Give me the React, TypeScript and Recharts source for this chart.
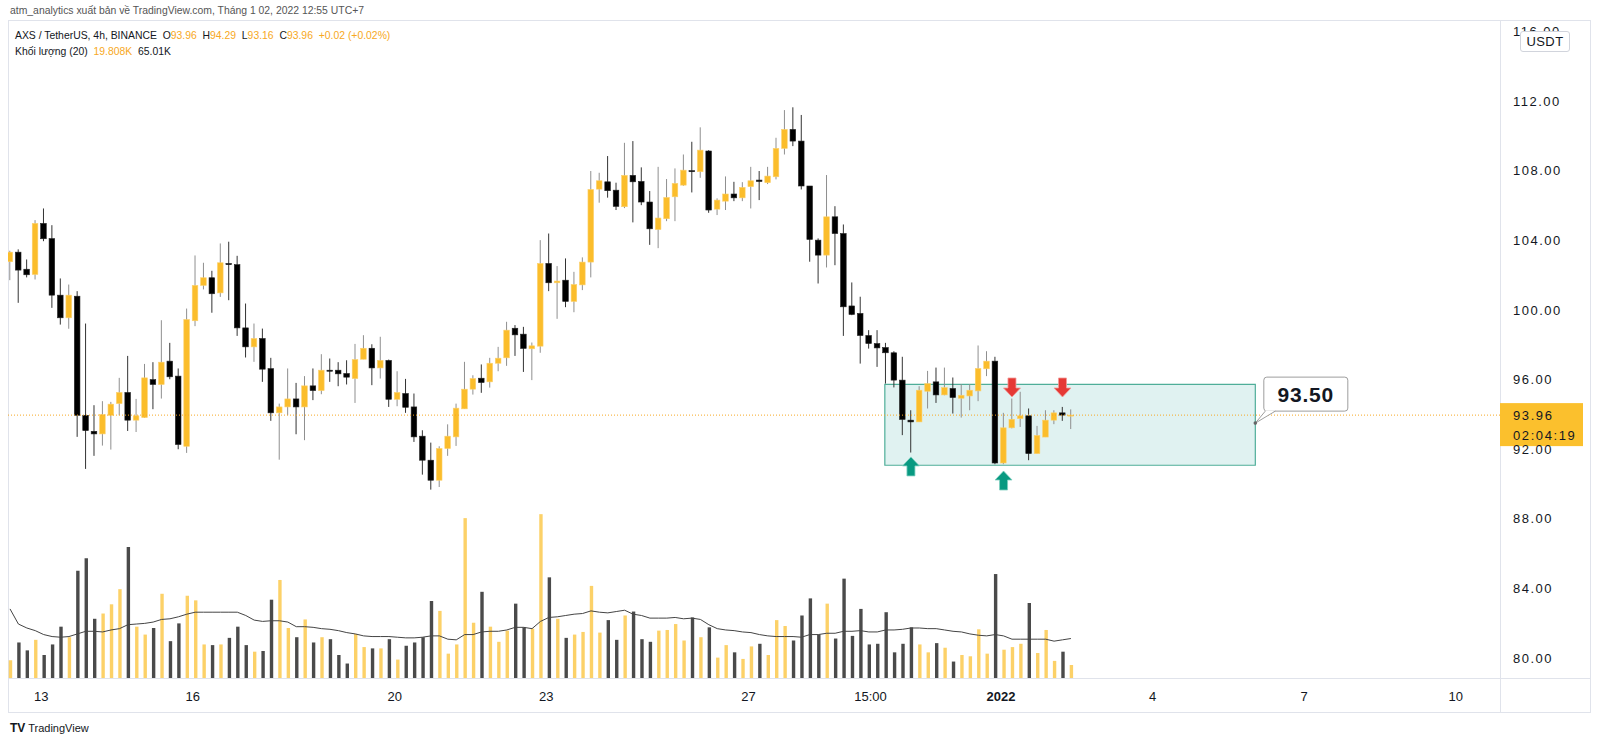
import React from "react";
import {
  ComposedChart,
  Bar,
  Line,
  XAxis,
  YAxis,
  ReferenceLine,
  ReferenceArea,
  ReferenceDot,
  Cell,
} from "recharts";

// AXS / USDT 4h candles (index 0 = first visible candle)
const opens = [
  102.77, 103.32, 102.34, 102.04, 104.97, 104.1, 100.85, 99.55, 100.79, 93.95,
  93.03, 92.88, 93.95, 94.62, 95.26, 93.67, 93.82, 96.0, 95.72, 97.06,
  96.2, 92.17, 99.38, 101.41, 101.85, 100.98, 102.67, 102.6, 98.97, 97.88,
  98.36, 96.63, 94.09, 94.43, 94.89, 94.43, 95.64, 95.37, 96.54, 96.54,
  96.35, 96.06, 97.17, 97.8, 96.67, 97.1, 94.87, 95.2, 94.43, 92.75,
  91.37, 90.22, 92.04, 92.71, 94.32, 95.45, 96.08, 95.87, 96.94, 97.25,
  98.95, 98.61, 97.77, 97.92, 102.67, 101.56, 101.71, 100.49, 101.44, 102.75,
  106.94, 107.36, 106.88, 105.93, 107.73, 107.38, 106.2, 104.62, 105.24, 106.5,
  107.17, 108.0, 107.94, 109.13, 105.79, 106.25, 106.66, 106.44, 107.08, 107.46,
  107.31, 107.65, 109.28, 110.37, 109.7, 107.12, 104.01, 103.15, 105.35, 104.39,
  100.23, 99.8, 98.53, 98.07, 97.84, 97.54, 95.97, 93.67, 93.57, 95.33,
  95.87, 95.12, 95.49, 94.93, 95.06, 95.35, 96.62, 97.06, 91.21, 93.23,
  93.76, 93.92, 91.75, 92.7, 93.67, 94.09, 93.96,
];
const highs = [
  103.4, 103.48, 102.9, 105.16, 105.83, 104.87, 101.81, 101.46, 101.08, 99.22,
  94.53, 94.76, 94.72, 96.1, 97.36, 94.89, 96.9, 97.0, 99.41, 98.11,
  96.64, 100.08, 103.13, 102.71, 102.25, 103.82, 103.92, 103.11, 100.37, 99.22,
  98.93, 97.25, 94.62, 96.64, 95.81, 96.2, 96.64, 97.46, 97.21, 97.0,
  97.11, 98.05, 98.55, 98.03, 98.46, 97.15, 96.48, 96.04, 95.2, 93.09,
  92.38, 92.17, 93.43, 94.62, 97.02, 96.25, 96.87, 97.25, 97.88, 99.32,
  99.13, 99.03, 98.13, 104.01, 104.39, 102.52, 102.96, 102.19, 103.02, 107.98,
  107.88, 108.84, 107.31, 109.6, 109.7, 108.19, 106.83, 108.22, 107.52, 108.13,
  108.93, 109.66, 110.49, 109.18, 106.41, 107.67, 107.36, 107.34, 108.22, 107.98,
  108.22, 109.89, 111.48, 111.64, 111.2, 107.12, 104.11, 107.75, 105.96, 104.91,
  101.58, 100.76, 98.84, 98.84, 98.11, 97.63, 97.31, 94.24, 95.62, 96.5,
  96.69, 96.69, 96.12, 95.74, 95.74, 97.96, 97.63, 97.31, 94.09, 94.91,
  95.3, 94.34, 93.34, 94.24, 94.24, 94.43, 94.29,
];
const lows = [
  101.71, 100.41, 101.87, 101.75, 103.95, 100.12, 99.16, 98.92, 92.71, 90.87,
  91.62, 92.21, 91.98, 93.95, 93.05, 92.99, 93.8, 94.3, 94.91, 96.02,
  92.0, 91.79, 99.07, 101.18, 99.84, 100.75, 100.56, 98.51, 97.27, 97.02,
  95.87, 93.63, 91.4, 93.95, 92.86, 92.52, 94.82, 95.16, 95.87, 95.62,
  95.72, 94.66, 97.17, 95.68, 96.06, 94.43, 94.47, 94.09, 92.42, 90.54,
  89.68, 89.83, 91.62, 92.19, 94.32, 95.14, 95.24, 95.54, 96.48, 96.79,
  97.36, 96.44, 95.97, 97.54, 101.08, 99.49, 100.16, 99.87, 101.14, 101.87,
  106.16, 106.45, 105.74, 105.85, 105.03, 106.02, 103.74, 103.55, 105.1, 105.1,
  107.13, 106.75, 107.59, 105.58, 105.45, 105.74, 106.25, 106.25, 105.83, 106.31,
  107.23, 107.5, 108.93, 109.41, 106.92, 102.77, 101.52, 102.44, 102.57, 98.51,
  99.7, 96.92, 97.78, 96.73, 95.77, 95.55, 92.81, 91.81, 93.57, 94.34,
  94.66, 95.1, 94.05, 93.82, 94.24, 94.76, 96.2, 91.14, 91.14, 93.2,
  93.28, 91.37, 91.75, 92.7, 93.44, 93.63, 93.16,
];
const closes = [
  103.32, 102.29, 102.02, 104.97, 104.09, 100.85, 99.55, 100.85, 93.95, 93.07,
  92.88, 93.99, 94.59, 95.26, 93.67, 93.92, 96.1, 95.72, 97.0, 96.16,
  92.27, 99.45, 101.41, 101.85, 100.93, 102.71, 102.6, 98.97, 97.88, 98.36,
  96.6, 94.09, 94.43, 94.89, 94.43, 95.64, 95.37, 96.54, 96.48, 96.33,
  96.14, 97.15, 97.8, 96.67, 97.1, 94.87, 95.26, 94.41, 92.71, 91.37,
  90.22, 92.04, 92.75, 94.36, 95.45, 96.06, 95.83, 96.94, 97.23, 98.84,
  98.57, 97.79, 97.94, 102.67, 101.56, 101.66, 100.49, 101.46, 102.75, 106.92,
  107.42, 106.85, 105.95, 107.73, 107.36, 106.2, 104.66, 105.28, 106.46, 107.27,
  108.03, 107.94, 109.18, 105.74, 106.31, 106.66, 106.44, 107.04, 107.42, 107.38,
  107.69, 109.28, 110.37, 109.7, 107.12, 104.05, 103.15, 105.35, 104.39, 100.18,
  99.74, 98.53, 98.07, 97.82, 97.54, 95.97, 93.71, 93.57, 95.39, 95.77,
  95.12, 95.54, 94.97, 95.1, 95.39, 96.64, 97.06, 91.21, 93.23, 93.72,
  93.92, 91.75, 92.79, 93.67, 94.09, 93.96, 93.96,
];
// volume in thousands
const volumes = [
  27, 54, 42, 58, 35, 51, 78, 62, 163, 182,
  90, 98, 112, 135, 199, 78, 66, 76, 128, 56,
  83, 125, 118, 51, 50, 51, 61, 78, 50, 40,
  41, 119, 149, 76, 62, 89, 54, 62, 59, 35,
  22, 67, 47, 45, 45, 59, 28, 49, 54, 62,
  117, 102, 37, 51, 243, 84, 131, 78, 55, 72,
  113, 77, 75, 249, 153, 90, 61, 66, 70, 140,
  69, 88, 58, 95, 101, 59, 55, 72, 73, 82,
  57, 92, 62, 77, 31, 50, 39, 29, 48, 52,
  35, 88, 79, 57, 95, 121, 66, 113, 60, 151,
  64, 105, 51, 52, 100, 39, 52, 77, 51, 39,
  53, 46, 25, 35, 33, 74, 37, 158, 43, 47,
  52, 114, 38, 73, 26, 40, 19.8,
];
// "Khối lượng (20)" moving average line
const volumeMA = [
  105, 82, 76, 72, 66, 63, 62, 63, 67, 71,
  71, 70, 73, 75, 81, 82, 83, 85, 89, 90,
  93, 97, 100, 100, 100, 100, 100, 100, 95, 88,
  86, 87, 87, 85, 78, 78, 77, 75, 74, 72,
  69, 67, 64, 63, 63, 63, 62, 61, 61, 62,
  64, 64, 59, 58, 66, 66, 70, 71, 71, 73,
  77, 77, 75, 86, 92, 93, 95, 97, 98, 102,
  100, 99, 101, 103, 97, 95, 91, 91, 91, 92,
  90, 91, 89, 81, 75, 73, 72, 70, 69, 66,
  64, 63, 63, 63, 62, 66, 66, 68, 68, 71,
  71, 72, 70, 70, 73, 73, 74, 76, 76, 75,
  75, 73, 71, 70, 67, 65, 64, 66, 64, 59,
  59, 59, 59, 59, 56, 58, 60,
];

const priceTicks = [80, 84, 88, 92, 96, 100, 104, 108, 112, 116];
const timeTickPos = [3.7, 21.7, 45.7, 63.7, 87.7, 102.2, 117.7, 135.7, 153.7, 171.7];
const timeTickLabels = ["13", "16", "20", "23", "27", "15:00", "2022", "4", "7", "10"];

const lastPrice = 93.96;
const zone = { from: 103.9, to: 147.9, low: 91.08, high: 95.72 };
const callout = { at: 147.9, price: 93.5, text: "93.50" };
const buyArrows = [
  { at: 107, price: 91.56 },
  { at: 118, price: 90.75 },
];
const sellArrows = [
  { at: 119, price: 95.0 },
  { at: 125, price: 95.0 },
];

const UP = "#fbbd2b";
const DOWN = "#000000";
const FONT = "'Liberation Sans', Arial, sans-serif";
const BORDER = "#e0e3eb";

const data = opens.map((o, i) => ({
  i,
  open: o,
  high: highs[i],
  low: lows[i],
  close: closes[i],
  range: [lows[i], highs[i]],
  vol: volumes[i],
  ma: volumeMA[i],
}));

function Candle(props: any) {
  const { x, y, width, height, payload } = props;
  if (!payload) return null;
  const top = Math.min(y, y + height);
  const h = Math.abs(height);
  const cx = x + width / 2;
  const k = h / (payload.high - payload.low || 1);
  const yO = top + (payload.high - payload.open) * k;
  const yC = top + (payload.high - payload.close) * k;
  const up = payload.close >= payload.open;
  const bTop = Math.min(yO, yC);
  const bH = Math.max(1, Math.abs(yO - yC));
  return (
    <g>
      <line x1={cx} x2={cx} y1={top} y2={top + h} stroke={up ? "#8f8f8f" : "#333"} strokeWidth={1} />
      <rect
        x={cx - 2.8}
        y={bTop}
        width={5.6}
        height={bH}
        fill={up ? UP : DOWN}
        stroke={up ? "#fcd06a" : "#222"}
        strokeWidth={0.6}
      />
    </g>
  );
}

function TimeTick(props: any) {
  const { x, y, payload } = props;
  const idx = timeTickPos.indexOf(payload.value);
  const label = idx >= 0 ? timeTickLabels[idx] : "";
  return (
    <text
      x={x}
      y={y + 15}
      textAnchor="middle"
      fontSize={13}
      fontFamily={FONT}
      fontWeight={label === "2022" ? 700 : 400}
      fill="#131722"
    >
      {label}
    </text>
  );
}

function UpArrow(props: any) {
  const { cx, cy } = props;
  const p = [
    [cx, cy],
    [cx + 8.5, cy + 9],
    [cx + 4, cy + 9],
    [cx + 4, cy + 19],
    [cx - 4, cy + 19],
    [cx - 4, cy + 9],
    [cx - 8.5, cy + 9],
  ];
  return <polygon points={p.map((q) => q.join(",")).join(" ")} fill="#089981" stroke="#7fcfc0" strokeWidth={0.8} />;
}

function DownArrow(props: any) {
  const { cx, cy } = props;
  const p = [
    [cx, cy],
    [cx + 8.5, cy - 9],
    [cx + 4, cy - 9],
    [cx + 4, cy - 19],
    [cx - 4, cy - 19],
    [cx - 4, cy - 9],
    [cx - 8.5, cy - 9],
  ];
  return <polygon points={p.map((q) => q.join(",")).join(" ")} fill="#e53935" stroke="#f19a98" strokeWidth={0.8} />;
}

function Callout(props: any) {
  const { cx, cy } = props;
  return (
    <g>
      <rect x={cx + 8.5} y={cy - 46} width={84} height={34} rx={3} fill="#fff" stroke="#9e9e9e" strokeWidth={1} />
      <polygon points={`${cx + 10},${cy - 12.5} ${cx + 20},${cy - 12.5} ${cx},${cy}`} fill="#fff" />
      <polyline points={`${cx + 10},${cy - 12} ${cx},${cy} ${cx + 20},${cy - 12}`} fill="none" stroke="#9e9e9e" strokeWidth={1} />
      <circle cx={cx} cy={cy} r={1.8} fill="#666" />
      <text
        x={cx + 50.5}
        y={cy - 21.5}
        textAnchor="middle"
        fontSize={21}
        fontWeight={600}
        fontFamily={FONT}
        fill="#131722"
        letterSpacing={0.8}
      >
        {callout.text}
      </text>
    </g>
  );
}

function PriceTag(props: any) {
  const { viewBox } = props;
  if (!viewBox) return null;
  const x = viewBox.x + viewBox.width;
  const y = viewBox.y;
  return (
    <g>
      <rect x={x} y={y - 12} width={83} height={43} fill="#fbc02d" />
      <text x={x + 13} y={y + 5} fontSize={13} fontFamily={FONT} fill="#131722" letterSpacing={1.6}>
        {lastPrice.toFixed(2)}
      </text>
      <text x={x + 13} y={y + 25} fontSize={13} fontFamily={FONT} fill="#131722" letterSpacing={1.6}>
        02:04:19
      </text>
    </g>
  );
}

export default function App() {
  return (
    <div style={{ position: "absolute", left: 0, top: 0, width: 1600, height: 744, background: "#fff", fontFamily: FONT }}>
      <div style={{ position: "absolute", left: 10, top: 5, fontSize: 10.4, color: "#555", whiteSpace: "nowrap" }}>
        atm_analytics xuất bản về TradingView.com, Tháng 1 02, 2022 12:55 UTC+7
      </div>

      {/* chart frame */}
      <div style={{ position: "absolute", left: 8, top: 20, width: 1581, height: 691, border: `1px solid ${BORDER}` }} />
      <div style={{ position: "absolute", left: 1500, top: 20, width: 1, height: 692, background: BORDER }} />
      <div style={{ position: "absolute", left: 8, top: 678, width: 1582, height: 1, background: BORDER }} />

      <div style={{ position: "absolute", left: 8, top: 20 }}>
        <ComposedChart width={1582} height={692} data={data} margin={{ top: 2, right: 0, bottom: 0, left: 0 }}>
          <XAxis
            dataKey="i"
            type="number"
            domain={[-0.2375, 176.96]}
            allowDataOverflow
            ticks={timeTickPos}
            interval={0}
            tick={<TimeTick />}
            axisLine={false}
            tickLine={false}
            height={34}
          />
          <XAxis xAxisId="v" dataKey="i" type="number" domain={[-0.2375, 176.96]} allowDataOverflow hide />
          <YAxis
            yAxisId="price"
            orientation="right"
            domain={[78.86, 116.54]}
            allowDataOverflow
            ticks={priceTicks}
            interval={0}
            tickFormatter={(v: number) => v.toFixed(2)}
            tick={{ fontSize: 13, fill: "#131722", fontFamily: FONT, letterSpacing: 1.5 }}
            tickSize={0}
            tickMargin={13}
            axisLine={false}
            tickLine={false}
            width={90}
          />
          <YAxis yAxisId="vol" domain={[0, 997]} allowDataOverflow hide />

          <Bar yAxisId="vol" xAxisId="v" dataKey="vol" barSize={3.4} isAnimationActive={false}>
            {data.map((d) => (
              <Cell key={d.i} fill={d.close >= d.open ? "#fcc94e" : "#2a2a2a"} fillOpacity={0.85} />
            ))}
          </Bar>
          <Line
            yAxisId="vol"
            xAxisId="v"
            dataKey="ma"
            type="linear"
            stroke="#444"
            strokeWidth={1}
            dot={false}
            isAnimationActive={false}
          />

          <ReferenceArea
            yAxisId="price"
            x1={zone.from}
            x2={zone.to}
            y1={zone.low}
            y2={zone.high}
            fill="#26a69a"
            fillOpacity={0.14}
            stroke="#4fae99"
            strokeWidth={1.2}
          />

          <Bar yAxisId="price" dataKey="range" barSize={6} shape={<Candle />} isAnimationActive={false} />

          <ReferenceLine
            yAxisId="price"
            y={lastPrice}
            stroke="#f7a823"
            strokeDasharray="1 2"
            label={<PriceTag />}
          />

          {buyArrows.map((a) => (
            <ReferenceDot key={`b${a.at}`} yAxisId="price" x={a.at} y={a.price} r={1} shape={<UpArrow />} />
          ))}
          {sellArrows.map((a) => (
            <ReferenceDot key={`s${a.at}`} yAxisId="price" x={a.at} y={a.price} r={1} shape={<DownArrow />} />
          ))}
          <ReferenceDot yAxisId="price" x={callout.at} y={callout.price} r={2} shape={<Callout />} />
        </ComposedChart>
      </div>

      {/* legend */}
      <div style={{ position: "absolute", left: 15, top: 30, fontSize: 10.4, color: "#131722", whiteSpace: "nowrap" }}>
        AXS / TetherUS, 4h, BINANCE&nbsp;&nbsp;O<span style={{ color: "#f7a823" }}>93.96</span>&nbsp;&nbsp;H
        <span style={{ color: "#f7a823" }}>94.29</span>&nbsp;&nbsp;L<span style={{ color: "#f7a823" }}>93.16</span>
        &nbsp;&nbsp;C<span style={{ color: "#f7a823" }}>93.96</span>&nbsp;&nbsp;
        <span style={{ color: "#f7a823" }}>+0.02 (+0.02%)</span>
      </div>
      <div style={{ position: "absolute", left: 15, top: 46, fontSize: 10.4, color: "#131722", whiteSpace: "nowrap" }}>
        Khối lượng (20)&nbsp;&nbsp;<span style={{ color: "#f7a823" }}>19.808K</span>&nbsp;&nbsp;65.01K
      </div>

      {/* currency badge */}
      <div
        style={{
          position: "absolute",
          left: 1520,
          top: 31,
          width: 48,
          height: 19,
          border: "1px solid #d1d4dc",
          borderRadius: 3,
          background: "#fff",
          fontSize: 13,
          lineHeight: "19px",
          textAlign: "center",
          color: "#131722",
          letterSpacing: 0.4,
        }}
      >
        USDT
      </div>

      {/* footer */}
      <div style={{ position: "absolute", left: 10, top: 721, fontSize: 11, color: "#131722", whiteSpace: "nowrap" }}>
        <span style={{ fontWeight: 700, fontSize: 12 }}>TV</span> TradingView
      </div>
    </div>
  );
}
